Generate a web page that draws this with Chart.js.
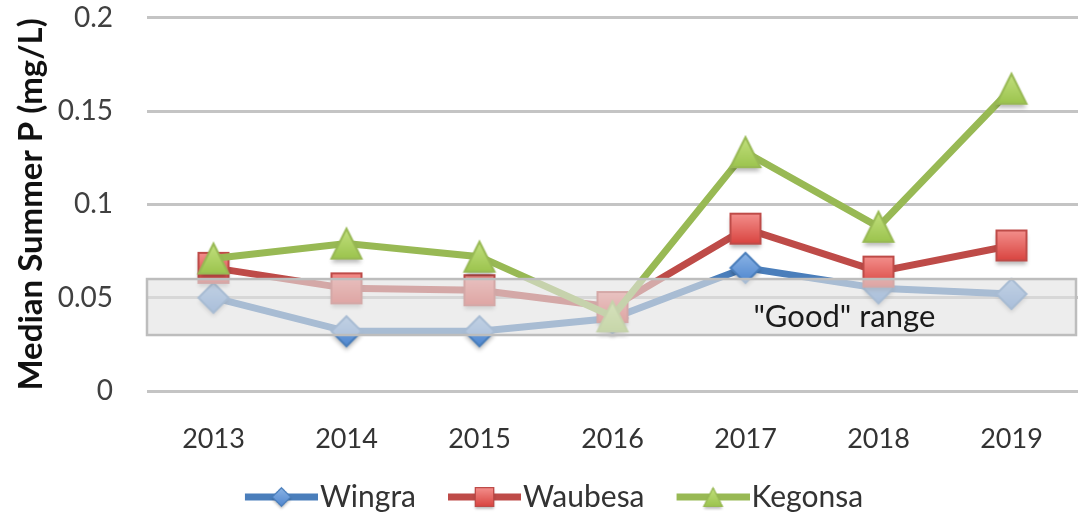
<!DOCTYPE html>
<html>
<head>
<meta charset="utf-8">
<script src="https://cdn.jsdelivr.net/npm/chart.js@4"></script>
<style>
html,body{margin:0;padding:0;background:#fff}
#wrap{width:1084px;height:517px;position:relative}
</style>
</head>
<body>
<div id="wrap"><canvas id="chart"></canvas></div>
<script>
const years=["2013","2014","2015","2016","2017","2018","2019"];
const wingra=[0.050,0.032,0.032,0.039,0.066,0.055,0.052];
const waubesa=[0.066,0.055,0.054,0.045,0.087,0.064,0.078];
const kegonsa=[0.071,0.079,0.072,0.040,0.128,0.088,0.162];
const yTicks=[0,0.05,0.1,0.15,0.2];
const goodRange=[0.03,0.06];
const goodLabel="\"Good\" range";

const font="Lato, 'Open Sans', sans-serif";
const styles={
  Wingra:{line:"#4A7EBB",top:"#8BB4E6",bot:"#4F86CE",shape:"diamond",size:30},
  Waubesa:{line:"#BE4B48",top:"#F4918E",bot:"#D8423E",shape:"rect",size:32},
  Kegonsa:{line:"#98B954",top:"#C2E07E",bot:"#9CC44E",shape:"triangle",size:30}
};

// marker image with gradient fill and soft shadow, centered on the data point
function marker(s){
  const pad=8,S=s.size,c=document.createElement("canvas");
  c.width=S+pad*2;c.height=S+pad*2;
  const x=c.getContext("2d"),o=pad,h=S/2;
  x.beginPath();
  if(s.shape==="diamond"){x.moveTo(o+h,o);x.lineTo(o+S,o+h);x.lineTo(o+h,o+S);x.lineTo(o,o+h);}
  else if(s.shape==="rect"){x.rect(o+1,o+1,S-2,S-2);}
  else{x.moveTo(o+h,o);x.lineTo(o+S,o+S);x.lineTo(o,o+S);}
  x.closePath();
  const g=x.createLinearGradient(0,o,0,o+S);g.addColorStop(0,s.top);g.addColorStop(1,s.bot);
  x.save();x.shadowColor="rgba(0,0,0,0.28)";x.shadowBlur=4;x.shadowOffsetY=4;
  x.fillStyle=g;x.fill();x.restore();
  x.strokeStyle=s.line;x.lineWidth=2;x.stroke();
  return c;
}

// legend icon: line with marker; legend box is 90 wide, the icon runs up to the text
function legendIcon(s,m){
  const c=document.createElement("canvas");c.width=116;c.height=m.height;
  const x=c.getContext("2d"),cy=c.height/2;
  x.strokeStyle=s.line;x.lineWidth=7;x.beginPath();x.moveTo(43,cy);x.lineTo(116,cy);x.stroke();
  const k=0.62,w=m.width*k,hh=m.height*k;
  x.drawImage(m,79.5-w/2,cy-hh/2,w,hh);
  return c;
}

const goodBox={
  id:"goodBox",
  afterDatasetsDraw(chart){
    const {ctx,chartArea:a,scales:{y}}=chart;
    const top=y.getPixelForValue(goodRange[1]),bot=y.getPixelForValue(goodRange[0]);
    ctx.save();
    ctx.fillStyle="rgba(226,226,226,0.62)";
    ctx.fillRect(a.left,top,a.right-a.left-2,bot-top);
    ctx.strokeStyle="#bdbdbd";ctx.lineWidth=2.5;
    ctx.strokeRect(a.left,top,a.right-a.left-2,bot-top);
    ctx.fillStyle="#1a1a1a";ctx.font="31px "+font;ctx.textAlign="center";ctx.textBaseline="middle";
    ctx.fillText(goodLabel,a.left+(a.right-a.left)*0.749,(top+bot)/2+10);
    ctx.restore();
  }
};

const mk=(label,data,order)=>{
  const s=styles[label],m=marker(s);
  return {label,data,borderColor:s.line,backgroundColor:s.line,borderWidth:7,
    pointStyle:m,pointRadius:s.size/2,pointHoverRadius:s.size/2,order,tension:0,_icon:legendIcon(s,m)};
};

new Chart("chart",{
  type:"line",
  data:{labels:years,datasets:[mk("Wingra",wingra,3),mk("Waubesa",waubesa,2),mk("Kegonsa",kegonsa,1)]},
  plugins:[goodBox],
  options:{
    responsive:true,maintainAspectRatio:false,animation:false,
    layout:{autoPadding:false,padding:{left:0,right:6,top:17,bottom:-5}},
    plugins:{
      tooltip:{enabled:false},
      legend:{position:"bottom",labels:{
        usePointStyle:true,pointStyleWidth:90,padding:2,color:"#333",font:{family:font,size:30},
        generateLabels:ch=>ch.data.datasets.map((d,i)=>({text:d.label,pointStyle:d._icon,fillStyle:d.borderColor,strokeStyle:d.borderColor,lineWidth:0,datasetIndex:i,fontColor:"#333"}))
      }}
    },
    scales:{
      x:{offset:true,grid:{display:false},border:{display:false},
        ticks:{color:"#333",padding:24,font:{family:font,size:27}},
        afterFit:s=>{s.height=89;}},
      y:{min:0,max:0.2,afterBuildTicks:s=>{s.ticks=yTicks.map(v=>({value:v}));},
        grid:{color:"#c4c4c4",lineWidth:3,drawTicks:true,tickLength:33,tickColor:"rgba(0,0,0,0)"},border:{display:false},
        ticks:{color:"#404040",padding:1,font:{family:font,size:28},callback:v=>String(v)},
        title:{display:true,text:"Median Summer P (mg/L)",color:"#111",font:{family:font,size:33,weight:"bold"},padding:{top:12,bottom:0}},
        afterFit:s=>{s.width=147;}}
    }
  }
});
</script>
</body>
</html>
